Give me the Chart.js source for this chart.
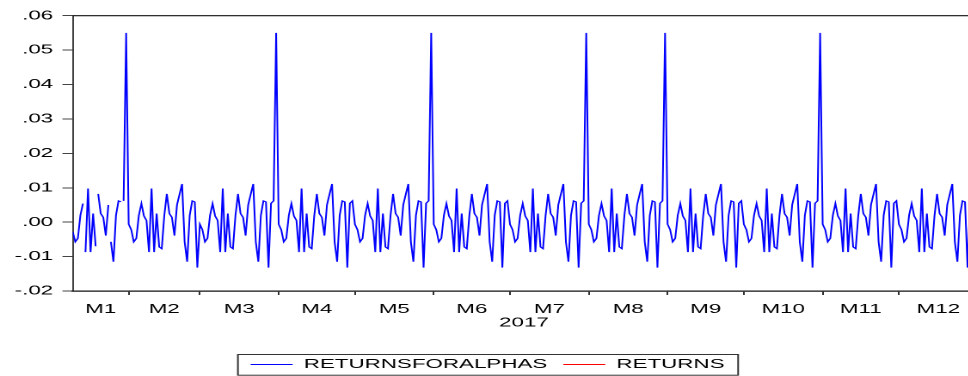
<!DOCTYPE html>
<html>
<head>
<meta charset="utf-8">
<script src="https://cdn.jsdelivr.net/npm/chart.js@4.4.1/dist/chart.umd.min.js"></script>
<style>
  html, body { margin: 0; padding: 0; background: #fff; width: 968px; height: 376px; overflow: hidden; }
  /* the graph is laid out narrow and widened, giving the broad EViews lettering */
  #frame { position: absolute; left: 0; top: 0; width: 568px; height: 381px; transform: scaleX(1.72); transform-origin: 0 0; }
</style>
</head>
<body>
<div id="frame"><canvas id="chart"></canvas></div>
<script>
const YEAR = 2017;
const monthLabels = ['M1', 'M2', 'M3', 'M4', 'M5', 'M6', 'M7', 'M8', 'M9', 'M10', 'M11', 'M12'];
const yTickValues = [-0.02, -0.01, 0.00, 0.01, 0.02, 0.03, 0.04, 0.05, 0.06];

// January is only observed on weekdays
const janDays    = [2, 3, 4, 5, 6, 9, 10, 11, 12, 13, 16, 17, 18, 19, 20, 23, 24, 25, 26, 27, 30, 31];
const janReturns = [-0.0028, -0.0057, -0.0047, 0.0020, 0.0054, -0.0087, 0.0098, -0.0087, 0.0025, -0.0070,
                    0.0082, 0.0025, 0.0014, -0.0039, 0.0050, -0.0057, -0.0115, 0.0020, 0.0062, 0.0059,
                    0.0062, 0.0550];

// February onwards: one value per calendar day
const febReturns = [-0.0006, -0.0022, -0.0057, -0.0047, 0.0020, 0.0054, 0.0018, 0.0005, -0.0087, 0.0098, -0.0087, 0.0025, -0.0072, -0.0077, 0.0019, 0.0082, 0.0025, 0.0014, -0.0039, 0.0050, 0.0081, 0.0111, -0.0057, -0.0115, 0.0020, 0.0062, 0.0059, -0.0132];
const marReturns = [-0.0006, -0.0022, -0.0057, -0.0047, 0.0020, 0.0054, 0.0018, 0.0005, -0.0087, 0.0098, -0.0087, 0.0025, -0.0072, -0.0077, 0.0019, 0.0082, 0.0025, 0.0014, -0.0039, 0.0050, 0.0081, 0.0111, -0.0057, -0.0115, 0.0020, 0.0062, 0.0059, -0.0132, 0.0055, 0.0062, 0.0550];
const aprReturns = [-0.0006, -0.0022, -0.0057, -0.0047, 0.0020, 0.0054, 0.0018, 0.0005, -0.0087, 0.0098, -0.0087, 0.0025, -0.0072, -0.0077, 0.0019, 0.0082, 0.0025, 0.0014, -0.0039, 0.0050, 0.0081, 0.0111, -0.0057, -0.0115, 0.0020, 0.0062, 0.0059, -0.0132, 0.0055, 0.0062];
const mayReturns = [-0.0006, -0.0022, -0.0057, -0.0047, 0.0020, 0.0054, 0.0018, 0.0005, -0.0087, 0.0098, -0.0087, 0.0025, -0.0072, -0.0077, 0.0019, 0.0082, 0.0025, 0.0014, -0.0039, 0.0050, 0.0081, 0.0111, -0.0057, -0.0115, 0.0020, 0.0062, 0.0059, -0.0132, 0.0055, 0.0062, 0.0550];
const junReturns = [-0.0006, -0.0022, -0.0057, -0.0047, 0.0020, 0.0054, 0.0018, 0.0005, -0.0087, 0.0098, -0.0087, 0.0025, -0.0072, -0.0077, 0.0019, 0.0082, 0.0025, 0.0014, -0.0039, 0.0050, 0.0081, 0.0111, -0.0057, -0.0115, 0.0020, 0.0062, 0.0059, -0.0132, 0.0055, 0.0062];
const julReturns = [-0.0006, -0.0022, -0.0057, -0.0047, 0.0020, 0.0054, 0.0018, 0.0005, -0.0087, 0.0098, -0.0087, 0.0025, -0.0072, -0.0077, 0.0019, 0.0082, 0.0025, 0.0014, -0.0039, 0.0050, 0.0081, 0.0111, -0.0057, -0.0115, 0.0020, 0.0062, 0.0059, -0.0132, 0.0055, 0.0062, 0.0550];
const augReturns = [-0.0006, -0.0022, -0.0057, -0.0047, 0.0020, 0.0054, 0.0018, 0.0005, -0.0087, 0.0098, -0.0087, 0.0025, -0.0072, -0.0077, 0.0019, 0.0082, 0.0025, 0.0014, -0.0039, 0.0050, 0.0081, 0.0111, -0.0057, -0.0115, 0.0020, 0.0062, 0.0059, -0.0132, 0.0055, 0.0062, 0.0550];
const sepReturns = [-0.0006, -0.0022, -0.0057, -0.0047, 0.0020, 0.0054, 0.0018, 0.0005, -0.0087, 0.0098, -0.0087, 0.0025, -0.0072, -0.0077, 0.0019, 0.0082, 0.0025, 0.0014, -0.0039, 0.0050, 0.0081, 0.0111, -0.0057, -0.0115, 0.0020, 0.0062, 0.0059, -0.0132, 0.0055, 0.0062];
const octReturns = [-0.0006, -0.0022, -0.0057, -0.0047, 0.0020, 0.0054, 0.0018, 0.0005, -0.0087, 0.0098, -0.0087, 0.0025, -0.0072, -0.0077, 0.0019, 0.0082, 0.0025, 0.0014, -0.0039, 0.0050, 0.0081, 0.0111, -0.0057, -0.0115, 0.0020, 0.0062, 0.0059, -0.0132, 0.0055, 0.0062, 0.0550];
const novReturns = [-0.0006, -0.0022, -0.0057, -0.0047, 0.0020, 0.0054, 0.0018, 0.0005, -0.0087, 0.0098, -0.0087, 0.0025, -0.0072, -0.0077, 0.0019, 0.0082, 0.0025, 0.0014, -0.0039, 0.0050, 0.0081, 0.0111, -0.0057, -0.0115, 0.0020, 0.0062, 0.0059, -0.0132, 0.0055, 0.0062];
const decReturns = [-0.0006, -0.0022, -0.0057, -0.0047, 0.0020, 0.0054, 0.0018, 0.0005, -0.0087, 0.0098, -0.0087, 0.0025, -0.0072, -0.0077, 0.0019, 0.0082, 0.0025, 0.0014, -0.0039, 0.0050, 0.0081, 0.0111, -0.0057, -0.0115, 0.0020, 0.0062, 0.0059, -0.0132, 0.0055, 0.0062, 0.0550];

// RETURNS has no observations over this sample
const returnsValues = [];

// ---- observation table ----
const laterMonths = [febReturns, marReturns, aprReturns, mayReturns, junReturns, julReturns,
                     augReturns, sepReturns, octReturns, novReturns, decReturns];
const obs = [];
janDays.forEach((d, i) => obs.push({ m: 0, d, v: janReturns[i] }));
laterMonths.forEach((arr, k) => arr.forEach((v, i) => obs.push({ m: k + 1, d: i + 1, v })));

const dayStamp = obs.map(o => Date.UTC(YEAR, o.m, o.d) / 864e5);
const gapAfter = new Set();
for (let i = 0; i + 1 < obs.length; i++) if (dayStamp[i + 1] - dayStamp[i] > 1) gapAfter.add(i);

const alphaPoints = obs.map((o, i) => ({ x: i, y: o.v }));
const returnsPoints = returnsValues.map((v, i) => ({ x: i, y: v }));

const monthStart = monthLabels.map((_, m) => obs.findIndex(o => o.m === m));
const boundaryTicks = monthStart.slice(1);
const labelTicks = monthStart.map((s, m) => (s + (m < 11 ? monthStart[m + 1] : obs.length)) / 2);
const labelAt = new Map(labelTicks.map((v, m) => [v, monthLabels[m]]));
const boundarySet = new Set(boundaryTicks);

const fmtTick = v => (v < -1e-9 ? '-' : '') + Math.abs(v).toFixed(2).replace(/^0/, '');

const FONT = { family: "'Liberation Sans', Arial, sans-serif", size: 13 };
const INK = '#111';

// frame line along the top and right of the plot
const plotFrame = {
  id: 'plotFrame',
  afterDraw(chart) {
    const { ctx, chartArea: a } = chart;
    ctx.save();
    ctx.strokeStyle = INK;
    ctx.lineWidth = 1.2;
    ctx.beginPath();
    ctx.moveTo(a.left, a.top);
    ctx.lineTo(a.right, a.top);
    ctx.lineTo(a.right, a.bottom);
    ctx.stroke();
    ctx.restore();
  }
};

// box around the legend entries
const legendBox = {
  id: 'legendBox',
  afterDraw(chart) {
    const hb = chart.legend && chart.legend.legendHitBoxes;
    if (!hb || !hb.length) return;
    const first = hb[0], last = hb[hb.length - 1];
    const mid = first.top + first.height / 2;
    const left = first.left - 7.4, right = last.left + last.width + 7.9;
    const top = mid - 10, bottom = mid + 10.7;
    const ctx = chart.ctx;
    ctx.save();
    ctx.strokeStyle = '#333';
    ctx.lineWidth = 1;
    ctx.strokeRect(left, top, right - left, bottom - top);
    ctx.restore();
  }
};

Chart.defaults.font.family = FONT.family;
Chart.defaults.font.size = FONT.size;
Chart.defaults.color = '#000';

new Chart(document.getElementById('chart'), {
  type: 'line',
  data: {
    datasets: [
      {
        label: 'RETURNSFORALPHAS',
        data: alphaPoints,
        borderColor: '#0000FF',
        backgroundColor: '#0000FF',
        borderWidth: 1,
        pointRadius: 0,
        tension: 0,
        segment: { borderColor: c => gapAfter.has(c.p0DataIndex) ? 'rgba(0,0,0,0)' : undefined }
      },
      {
        label: 'RETURNS',
        data: returnsPoints,
        borderColor: '#FF0000',
        backgroundColor: '#FF0000',
        borderWidth: 1,
        pointRadius: 0
      }
    ]
  },
  options: {
    responsive: true,
    maintainAspectRatio: false,
    animation: false,
    devicePixelRatio: 2,
    layout: { padding: { left: 0, right: 1.04, top: 15.7, bottom: 0 } },
    events: [],
    plugins: {
      tooltip: { enabled: false },
      legend: {
        position: 'bottom',
        labels: { boxWidth: 24.4, boxHeight: 0, padding: 9.3, color: '#000', font: FONT }
      }
    },
    scales: {
      x: {
        type: 'linear',
        min: 0,
        max: obs.length - 1,
        afterBuildTicks: s => {
          s.ticks = [...boundaryTicks, ...labelTicks].sort((a, b) => a - b).map(v => ({ value: v }));
        },
        afterFit: s => { s.height = 57.7; },
        ticks: {
          autoSkip: false,
          maxRotation: 0,
          padding: 6.5,
          color: '#000',
          font: FONT,
          callback: v => labelAt.get(v) || ''
        },
        grid: {
          drawOnChartArea: false,
          tickLength: 4,
          tickWidth: 1,
          tickColor: c => (c.tick && boundarySet.has(c.tick.value)) ? '#333' : 'rgba(0,0,0,0)'
        },
        border: { color: INK, width: 1.2 },
        title: { display: true, text: String(YEAR), color: '#000', font: FONT, padding: { top: 0, bottom: 17.9 } }
      },
      y: {
        min: -0.02,
        max: 0.06,
        afterBuildTicks: s => { s.ticks = yTickValues.map(v => ({ value: v })); },
        afterFit: s => { s.width = 42.3; },
        ticks: { padding: 5.4, color: '#000', font: FONT, callback: v => fmtTick(v) },
        grid: { drawOnChartArea: false, tickLength: 6, tickWidth: 1, tickColor: '#444' },
        border: { color: INK, width: 0.8 }
      }
    }
  },
  plugins: [plotFrame, legendBox]
});
</script>
</body>
</html>
